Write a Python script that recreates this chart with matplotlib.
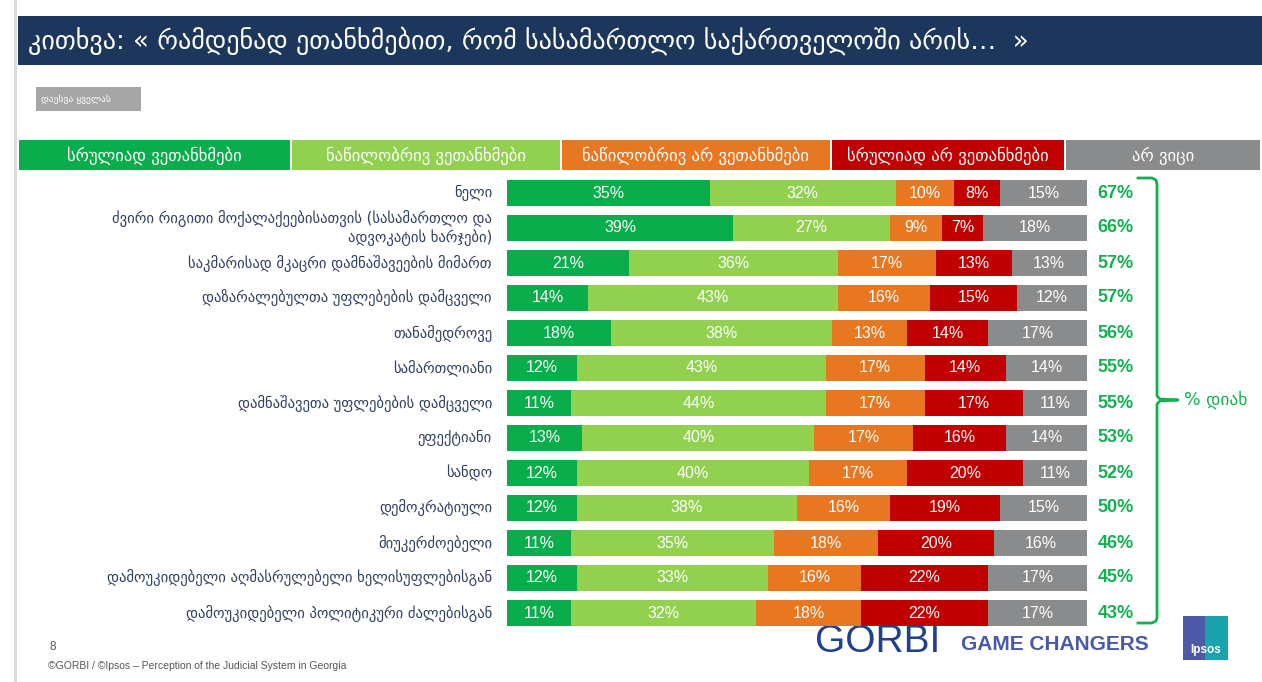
import numpy as np
import matplotlib.pyplot as plt
from matplotlib.patches import Rectangle

plt.rcParams['font.family'] = ['DejaVu Sans']
num_font = ['Liberation Sans', 'DejaVu Sans']

# data
title = "კითხვა: « რამდენად ეთანხმებით, რომ სასამართლო საქართველოში არის…  »"
subtitle = "დაესვა ყველას"
categories = [
    "ნელი",
    "ძვირი რიგითი მოქალაქეებისათვის (სასამართლო და\nადვოკატის ხარჯები)",
    "საკმარისად მკაცრი დამნაშავეების მიმართ",
    "დაზარალებულთა უფლებების დამცველი",
    "თანამედროვე",
    "სამართლიანი",
    "დამნაშავეთა უფლებების დამცველი",
    "ეფექტიანი",
    "სანდო",
    "დემოკრატიული",
    "მიუკერძოებელი",
    "დამოუკიდებელი აღმასრულებელი ხელისუფლებისგან",
    "დამოუკიდებელი პოლიტიკური ძალებისგან",
]
series_names = ["სრულიად ვეთანხმები", "ნაწილობრივ ვეთანხმები",
                "ნაწილობრივ არ ვეთანხმები", "სრულიად არ ვეთანხმები", "არ ვიცი"]
fully_agree = [35, 39, 21, 14, 18, 12, 11, 13, 12, 12, 11, 12, 11]
partly_agree = [32, 27, 36, 43, 38, 43, 44, 40, 40, 38, 35, 33, 32]
partly_disagree = [10, 9, 17, 16, 13, 17, 17, 17, 17, 16, 18, 16, 18]
fully_disagree = [8, 7, 13, 15, 14, 14, 17, 16, 20, 19, 20, 22, 22]
dont_know = [15, 18, 13, 12, 17, 14, 11, 14, 11, 15, 16, 17, 17]
yes_total = [67, 66, 57, 57, 56, 55, 55, 53, 52, 50, 46, 45, 43]
total_label = "% დიახ"
footer = "©GORBI / ©Ipsos – Perception of the Judicial System in Georgia"

colors = ['#0aad4b', '#92d050', '#e87722', '#c00000', '#898b8d']
navy = '#1c365c'
label_col = '#2e3f5f'
green_txt = '#12b050'

W, H = 1262, 682
fig = plt.figure(figsize=(W / 100, H / 100), dpi=100)

# background axes in pixel coords for the slide decoration
bg = fig.add_axes([0, 0, 1, 1])
bg.set_xlim(0, W)
bg.set_ylim(H, 0)
bg.axis('off')

bg.add_patch(Rectangle((14, 0), 3, H, color='#dcdcdc', lw=0))
bg.add_patch(Rectangle((18, 16), W - 18, 49, color=navy, lw=0))
bg.text(28, 41, title, color='white', fontsize=18.8, va='center', ha='left')

bg.add_patch(Rectangle((36, 87), 105, 24, color='#a6a6a6', lw=0))
bg.text(41, 99, subtitle, color='white', fontsize=6.8, va='center', ha='left')

# legend header boxes
legend_x = [19, 292, 562, 832, 1066]
legend_w = [271, 268, 268, 232, 194]
for x0, w, c, name in zip(legend_x, legend_w, colors, series_names):
    bg.add_patch(Rectangle((x0, 140), w, 30, color=c, lw=0))
    bg.text(x0 + w / 2, 155.5, name, color='white', fontsize=12, ha='center', va='center')

# bars
ax = fig.add_axes([507 / W, 1 - 630.5 / H, 580 / W, 455 / H])
ax.set_xlim(0, 100)
ax.set_ylim(len(categories) - 0.5, -0.5)
ax.axis('off')

y = np.arange(len(categories))
series = [fully_agree, partly_agree, partly_disagree, fully_disagree, dont_know]
left = np.zeros(len(categories))
for vals, c in zip(series, colors):
    vals = np.array(vals)
    ax.barh(y, vals, left=left, height=0.74, color=c, lw=0)
    for yi, (l, v) in enumerate(zip(left, vals)):
        ax.text(l + v / 2, yi, f"{v}%", color='white', fontsize=11.5, ha='center', va='center',
                family=num_font)
    left += vals

for yi, (cat, t) in enumerate(zip(categories, yes_total)):
    ax.text(-2.6, yi, cat, color=label_col, fontsize=10.5, ha='right', va='center',
            multialignment='right', linespacing=1.15)
    ax.text(1.8 + 100, yi, f"{t}%", color=green_txt, fontsize=13, fontweight='bold',
            ha='left', va='center', family=num_font)

# bracket
bx = [1138, 1152, 1156, 1157, 1157, 1160, 1178, 1160, 1157, 1157, 1156, 1152, 1138]
by = [178, 178, 180, 184, 396, 399, 400, 401, 404, 618, 621, 623, 623]
bg.plot(bx, by, color=green_txt, lw=2, solid_joinstyle='round')
bg.text(1184, 400, total_label, color=green_txt, fontsize=12.5, va='center', ha='left')

# footer
bg.text(50, 647, "8", color='#555555', fontsize=8.5, va='center', family=num_font)
bg.text(48, 666, footer, color='#555555', fontsize=7.5, va='center', family=num_font)

# logos
bg.text(878, 642, "GORBI", color='#1f3f8f', fontsize=28, ha='center', va='center',
        family=num_font)
bg.text(1055, 645, "GAME CHANGERS", color='#4a5aa8', fontsize=15, fontweight='bold',
        ha='center', va='center', family=num_font)
bg.add_patch(Rectangle((1183, 616), 22, 44, color='#4e5aa8', lw=0))
bg.add_patch(Rectangle((1205, 616), 23, 44, color='#19a3ad', lw=0))
bg.text(1205.5, 650, "Ipsos", color='white', fontsize=8.5, fontweight='bold', ha='center',
        va='center', family=num_font)

fig.savefig('out.png', dpi=100)
